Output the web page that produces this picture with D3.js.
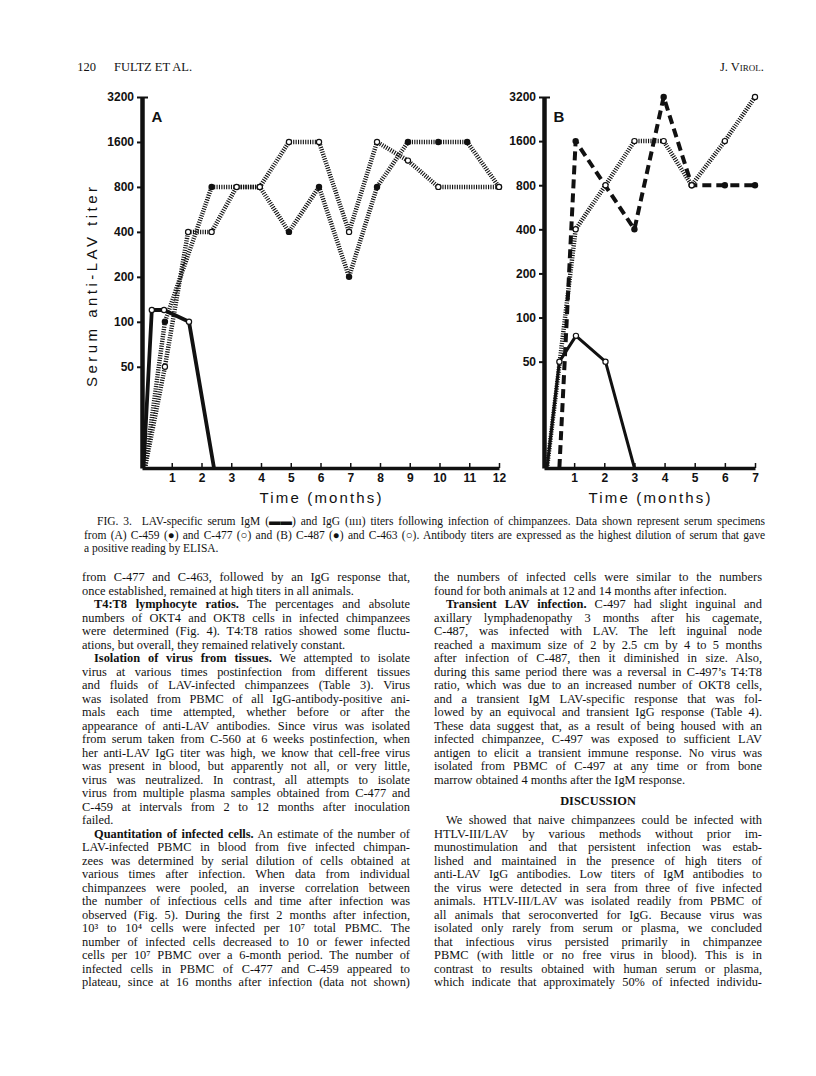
<!DOCTYPE html>
<html>
<head>
<meta charset="utf-8">
<script src="https://cdn.jsdelivr.net/npm/d3@7"></script>
<style>
  body { margin: 0; background: #fff; }
  svg { display: block; }
</style>
</head>
<body>
<svg id="page"></svg>
<script>
// titer ticks and month ticks
const titerTicks = [50, 100, 200, 400, 800, 1600, 3200];
const monthTicksA = [1, 2, 3, 4, 5, 6, 7, 8, 9, 10, 11, 12];
const monthTicksB = [1, 2, 3, 4, 5, 6, 7];

// [month, titer]; titer 0 = negative (drawn on the axis)
// panel A : C-459 (filled) and C-477 (open)
const igmA = [[0.05, 0], [0.33, 120], [0.74, 120], [1.58, 100], [2.42, 0]];
const iggA459 = [[0.1, 0], [0.77, 100], [2.34, 800], [3.96, 800], [4.94, 400], [5.95, 800],
                 [6.96, 200], [7.9, 800], [8.94, 1600], [9.96, 1600], [10.93, 1600], [12, 800]];
const iggA477 = [[0.1, 0], [0.77, 50], [1.55, 400], [2.34, 400], [3.18, 800], [3.96, 800],
                 [4.94, 1600], [5.95, 1600], [6.96, 400], [7.9, 1600], [8.94, 1200], [9.96, 800], [12, 800]];

// panel B : C-487 (filled) and C-463 (open)
const igmB = [[0.1, 0], [0.51, 50], [1.06, 75], [2.04, 50], [3.0, 0]];
const iggB487 = [[0.51, 0], [1.05, 1600], [3.0, 400], [3.97, 3200], [4.9, 800], [6, 800], [7, 800]];
const iggB463 = [[0.1, 0], [1.05, 400], [2.04, 800], [3.0, 1600], [3.97, 1600], [4.9, 800], [6, 1600], [7, 3200]];

const captionLines = [
  ">FIG. 3.  LAV-specific serum IgM (▬▬) and IgG (ıııı) titers following infection of chimpanzees. Data shown represent serum specimens",
  "from (A) C-459 (●) and C-477 (○) and (B) C-487 (●) and C-463 (○). Antibody titers are expressed as the highest dilution of serum that gave",
  "a positive reading by ELISA.|"
];

const leftLines = [
  "from C-477 and C-463, followed by an IgG response that,",
  "once established, remained at high titers in all animals.|",
  ">*T4:T8 lymphocyte ratios.* The percentages and absolute",
  "numbers of OKT4 and OKT8 cells in infected chimpanzees",
  "were determined (Fig. 4). T4:T8 ratios showed some fluctu-",
  "ations, but overall, they remained relatively constant.|",
  ">*Isolation of virus from tissues.* We attempted to isolate",
  "virus at various times postinfection from different tissues",
  "and fluids of LAV-infected chimpanzees (Table 3). Virus",
  "was isolated from PBMC of all IgG-antibody-positive ani-",
  "mals each time attempted, whether before or after the",
  "appearance of anti-LAV antibodies. Since virus was isolated",
  "from serum taken from C-560 at 6 weeks postinfection, when",
  "her anti-LAV IgG titer was high, we know that cell-free virus",
  "was present in blood, but apparently not all, or very little,",
  "virus was neutralized. In contrast, all attempts to isolate",
  "virus from multiple plasma samples obtained from C-477 and",
  "C-459 at intervals from 2 to 12 months after inoculation",
  "failed.|",
  ">*Quantitation of infected cells.* An estimate of the number of",
  "LAV-infected PBMC in blood from five infected chimpan-",
  "zees was determined by serial dilution of cells obtained at",
  "various times after infection. When data from individual",
  "chimpanzees were pooled, an inverse correlation between",
  "the number of infectious cells and time after infection was",
  "observed (Fig. 5). During the first 2 months after infection,",
  "10³ to 10⁴ cells were infected per 10⁷ total PBMC. The",
  "number of infected cells decreased to 10 or fewer infected",
  "cells per 10⁷ PBMC over a 6-month period. The number of",
  "infected cells in PBMC of C-477 and C-459 appeared to",
  "plateau, since at 16 months after infection (data not shown)"
];

const rightLines = [
  "the numbers of infected cells were similar to the numbers",
  "found for both animals at 12 and 14 months after infection.|",
  ">*Transient LAV infection.* C-497 had slight inguinal and",
  "axillary lymphadenopathy 3 months after his cagemate,",
  "C-487, was infected with LAV. The left inguinal node",
  "reached a maximum size of 2 by 2.5 cm by 4 to 5 months",
  "after infection of C-487, then it diminished in size. Also,",
  "during this same period there was a reversal in C-497’s T4:T8",
  "ratio, which was due to an increased number of OKT8 cells,",
  "and a transient IgM LAV-specific response that was fol-",
  "lowed by an equivocal and transient IgG response (Table 4).",
  "These data suggest that, as a result of being housed with an",
  "infected chimpanzee, C-497 was exposed to sufficient LAV",
  "antigen to elicit a transient immune response. No virus was",
  "isolated from PBMC of C-497 at any time or from bone",
  "marrow obtained 4 months after the IgM response.|",
  "#DISCUSSION",
  "",
  ">We showed that naive chimpanzees could be infected with",
  "HTLV-III/LAV by various methods without prior im-",
  "munostimulation and that persistent infection was estab-",
  "lished and maintained in the presence of high titers of",
  "anti-LAV IgG antibodies. Low titers of IgM antibodies to",
  "the virus were detected in sera from three of five infected",
  "animals. HTLV-III/LAV was isolated readily from PBMC of",
  "all animals that seroconverted for IgG. Because virus was",
  "isolated only rarely from serum or plasma, we concluded",
  "that infectious virus persisted primarily in chimpanzee",
  "PBMC (with little or no free virus in blood). This is in",
  "contrast to results obtained with human serum or plasma,",
  "which indicate that approximately 50% of infected individu-"
];

const serif = "'Liberation Serif', 'Times New Roman', serif";
const sans = "'Liberation Sans', Arial, sans-serif";
const ink = "#111";

const svg = d3.select("#page").attr("width", 816).attr("height", 1076);

// running head
svg.append("text").attr("x", 96).attr("y", 71).attr("text-anchor", "end").attr("font-family", serif)
   .attr("font-size", 12.5).attr("fill", ink).text("120");
svg.append("text").attr("x", 114).attr("y", 71).attr("font-family", serif)
   .attr("font-size", 12.5).attr("fill", ink).text("FULTZ ET AL.");
svg.append("text").attr("x", 764).attr("y", 71).attr("text-anchor", "end").attr("font-family", serif)
   .attr("font-size", 12.5).attr("fill", ink).style("font-variant", "small-caps").text("J. Virol.");

// one panel of the figure
function drawPanel(opts) {
  const x = d3.scaleLinear().domain([0, opts.maxMonth]).range(opts.xRange);
  const y = d3.scaleLog().base(2).domain([opts.floor, 3200]).range([468, 97]);
  const yOf = v => v > 0 ? y(v) : y.range()[0];
  const g = svg.append("g");

  const line = d3.line().x(d => x(d[0])).y(d => yOf(d[1]));

  opts.series.forEach(s => {
    g.append("path")
      .datum(s.data)
      .attr("d", line)
      .attr("fill", "none")
      .attr("stroke", ink)
      .attr("stroke-width", s.width)
      .attr("stroke-dasharray", s.dash)
      .attr("stroke-linejoin", "round");
  });
  opts.series.forEach(s => {
    g.selectAll(null)
      .data(s.data.filter(d => d[1] > 0))
      .join("circle")
      .attr("cx", d => x(d[0]))
      .attr("cy", d => yOf(d[1]))
      .attr("r", s.filled ? 3.2 : 2.6)
      .attr("fill", s.filled ? ink : "#fff")
      .attr("stroke", ink)
      .attr("stroke-width", s.filled ? 0 : 1.2);
  });

  // y axis
  const gy = g.append("g")
    .attr("transform", `translate(${opts.xRange[0]},0)`)
    .call(d3.axisLeft(y).tickValues(titerTicks).tickFormat(d3.format("d"))
      .tickSizeInner(5).tickSizeOuter(0).tickPadding(3));
  gy.select(".domain").attr("stroke", ink).attr("stroke-width", 4.5);
  gy.selectAll(".tick line").attr("stroke", ink).attr("stroke-width", 2);
  gy.selectAll(".tick text").attr("fill", ink).attr("font-family", sans)
    .attr("font-weight", "bold").attr("font-size", 12);

  g.append("g")
    .attr("transform", `translate(${opts.xRange[0]},0)`)
    .call(d3.axisRight(y).tickValues([3200]).tickFormat("").tickSize(6).tickSizeOuter(0))
    .call(a => a.select(".domain").remove())
    .selectAll("line").attr("stroke", ink).attr("stroke-width", 2);

  // x axis
  const gx = g.append("g")
    .attr("transform", "translate(0,468)")
    .call(d3.axisBottom(x).tickValues(opts.xTicks).tickFormat(d3.format("d"))
      .tickSizeInner(-5).tickSizeOuter(0).tickPadding(5));
  gx.select(".domain").attr("stroke", ink).attr("stroke-width", 3.5);
  gx.selectAll(".tick line").attr("stroke", ink).attr("stroke-width", 1.5);
  gx.selectAll(".tick text").attr("fill", ink).attr("font-family", sans)
    .attr("font-weight", "bold").attr("font-size", 12);

  g.append("text")
    .attr("x", opts.xRange[0] + 15).attr("y", 122)
    .attr("text-anchor", "middle").attr("font-family", sans)
    .attr("font-weight", "bold").attr("font-size", 15).attr("fill", ink)
    .text(opts.letter);

  g.append("text")
    .attr("x", (opts.xRange[0] + opts.xRange[1]) / 2).attr("y", 503)
    .attr("text-anchor", "middle").attr("font-family", sans)
    .attr("font-size", 15).attr("fill", ink)
    .attr("textLength", 122).attr("lengthAdjust", "spacing")
    .text("Time (months)");
}

drawPanel({
  maxMonth: 12, xRange: [142, 499], floor: 10.5, xTicks: monthTicksA, letter: "A",
  series: [
    { data: igmA, width: 3.8, dash: null, filled: false },
    { data: iggA459, width: 4.5, dash: "1.1 1.3", filled: true },
    { data: iggA477, width: 4.5, dash: "1.1 1.3", filled: false }
  ]
});

drawPanel({
  maxMonth: 7, xRange: [544, 755], floor: 9.4, xTicks: monthTicksB, letter: "B",
  series: [
    { data: igmB, width: 3, dash: null, filled: false },
    { data: iggB487, width: 4, dash: "9 5", filled: true },
    { data: iggB463, width: 4.5, dash: "1.1 1.3", filled: false }
  ]
});

svg.append("text")
  .attr("transform", "translate(97,287) rotate(-90)")
  .attr("text-anchor", "middle").attr("font-family", sans)
  .attr("font-size", 15).attr("fill", ink)
  .attr("textLength", 200).attr("lengthAdjust", "spacing")
  .text("Serum anti-LAV titer");

// justified text lines
function drawLines(lines, x0, width, y0, lead, size, indent) {
  lines.forEach((raw, i) => {
    if (!raw) return;
    if (raw[0] === "#") {
      svg.append("text")
        .attr("x", x0 + width / 2).attr("y", y0 + (i + 0.6) * lead)
        .attr("text-anchor", "middle").attr("font-family", serif)
        .attr("font-weight", "bold").attr("font-size", size).attr("fill", ink)
        .text(raw.slice(1));
      return;
    }
    let s = raw;
    const ind = s[0] === ">" ? indent : 0;
    if (ind) s = s.slice(1);
    const last = s.endsWith("|");
    if (last) s = s.slice(0, -1);
    const t = svg.append("text")
      .attr("x", x0 + ind).attr("y", y0 + i * lead)
      .attr("font-family", serif).attr("font-size", size).attr("fill", ink)
      .attr("xml:space", "preserve");
    s.split("*").forEach((part, k) => {
      if (part) t.append("tspan").attr("font-weight", k % 2 ? "bold" : null).text(part);
    });
    if (!last) {
      const w = width - ind;
      const natural = t.node().getComputedTextLength();
      const gaps = (s.match(/ /g) || []).length;
      const ws = gaps ? (w - natural) / gaps : 0;
      if (ws > -1) t.attr("word-spacing", ws);
      else t.attr("textLength", w).attr("lengthAdjust", "spacing");
    }
  });
}

drawLines(captionLines, 84, 681, 525, 13.5, 11.5, 13);
drawLines(leftLines, 82, 328, 581, 13.5, 12.4, 12);
drawLines(rightLines, 434, 328, 581, 13.5, 12.4, 12);
</script>
</body>
</html>
